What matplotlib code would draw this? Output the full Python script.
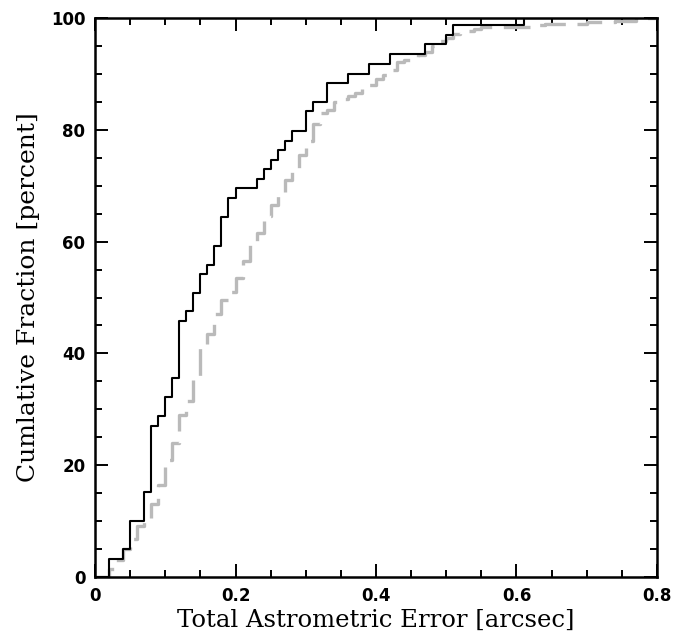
import matplotlib
matplotlib.use('Agg')
import matplotlib.pyplot as plt
from matplotlib.ticker import MultipleLocator

# cumulative distributions (step edges, value after step)
black_x = [0, 0.02, 0.04, 0.05, 0.07, 0.08, 0.09, 0.10, 0.11, 0.12, 0.13, 0.14,
           0.15, 0.16, 0.17, 0.18, 0.19, 0.20, 0.23, 0.24, 0.25, 0.26, 0.27, 0.28,
           0.30, 0.31, 0.33, 0.36, 0.39, 0.42, 0.47, 0.50, 0.51, 0.61, 0.80]
black_y = [0, 3.3, 5.0, 10.1, 15.2, 27.1, 28.8, 32.2, 35.6, 45.8, 47.5, 50.8,
           54.2, 55.9, 59.3, 64.4, 67.8, 69.5, 71.2, 72.9, 74.6, 76.3, 78.0, 79.7,
           83.3, 85.0, 88.3, 90.0, 91.8, 93.5, 95.3, 97.0, 98.8, 100, 100]

gray_x = [0, 0.02, 0.03, 0.04, 0.05, 0.06, 0.07, 0.08, 0.09, 0.10, 0.11, 0.12,
          0.13, 0.14, 0.15, 0.16, 0.17, 0.18, 0.19, 0.20, 0.21, 0.22, 0.23, 0.24,
          0.25, 0.26, 0.27, 0.28, 0.29, 0.30, 0.31, 0.32, 0.33, 0.34, 0.35, 0.36,
          0.37, 0.38, 0.39, 0.40, 0.41, 0.42, 0.43, 0.44, 0.45, 0.46, 0.47, 0.48,
          0.49, 0.50, 0.51, 0.52, 0.54, 0.55, 0.62, 0.64, 0.70, 0.74, 0.77, 0.80]
gray_y = [0, 1.5, 3.0, 5.0, 6.8, 9.2, 10.5, 13.0, 16.5, 21.0, 24.0, 29.0,
          31.5, 36.0, 41.0, 43.5, 47.0, 49.5, 51.0, 53.5, 56.5, 59.5, 61.5, 64.5,
          66.5, 68.5, 71.0, 73.0, 75.5, 78.0, 81.0, 83.0, 83.5, 85.0, 85.5, 86.0,
          86.6, 87.5, 88.0, 89.0, 89.8, 90.7, 92.2, 92.4, 92.9, 93.4, 94.0, 95.0,
          95.9, 96.4, 97.2, 97.7, 98.0, 98.3, 98.8, 99.0, 99.2, 99.4, 100, 100]

fig = plt.figure(figsize=(6.73, 6.40), dpi=100)
ax = fig.add_axes([0.1412, 0.0984, 0.835, 0.8735])

# gray dashed distribution behind, black solid on top
g, = ax.step(gray_x, gray_y, where='post', color='#bababa', lw=2.4)
g.set_dashes([8, 3.5])
ax.step(black_x, black_y, where='post', color='black', lw=1.5)

ax.set_xlim(0, 0.8)
ax.set_ylim(0, 100)

ax.xaxis.set_major_locator(MultipleLocator(0.2))
ax.xaxis.set_minor_locator(MultipleLocator(0.05))
ax.yaxis.set_major_locator(MultipleLocator(20))
ax.yaxis.set_minor_locator(MultipleLocator(5))
ax.xaxis.set_major_formatter(plt.FuncFormatter(lambda v, p: '0' if v == 0 else f'{v:g}'))

ax.tick_params(which='both', direction='in', top=True, right=True, width=1.4)
ax.tick_params(which='major', length=9.5, pad=7)
ax.tick_params(which='minor', length=5)
for lab in ax.get_xticklabels() + ax.get_yticklabels():
    lab.set_fontfamily('DejaVu Sans')
    lab.set_fontweight('bold')
    lab.set_fontsize(12)

for s in ax.spines.values():
    s.set_linewidth(1.8)

ax.set_xlabel('Total Astrometric Error [arcsec]', family='DejaVu Serif', fontsize=17.5, labelpad=3)
ax.set_ylabel('Cumlative Fraction [percent]', family='DejaVu Serif', fontsize=18, labelpad=8)

fig.savefig('out.png', dpi=100)
